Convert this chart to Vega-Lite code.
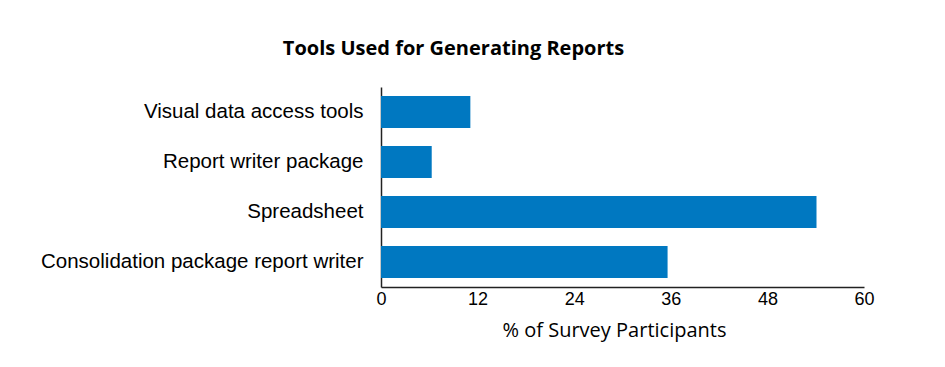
{
  "$schema": "https://vega.github.io/schema/vega-lite/v6.json",
  "autosize": {"type": "none"},
  "width": 483,
  "height": 200,
  "padding": {"left": 381, "top": 87, "right": 81, "bottom": 80},
  "background": "white",
  "title": {
    "text": "Tools Used for Generating Reports",
    "font": "Open Sans",
    "fontSize": 20,
    "fontWeight": "bold",
    "color": "black",
    "anchor": "middle",
    "dx": -169,
    "offset": 28
  },
  "data": {
    "values": [
      {"tool": "Visual data access tools", "pct": 11.1},
      {"tool": "Report writer package", "pct": 6.3},
      {"tool": "Spreadsheet", "pct": 54.1},
      {"tool": "Consolidation package report writer", "pct": 35.6}
    ]
  },
  "mark": {"type": "bar", "color": "#0078c1"},
  "encoding": {
    "y": {
      "field": "tool",
      "type": "nominal",
      "sort": null,
      "scale": {"paddingInner": 0.36, "paddingOuter": 0.18},
      "axis": {
        "title": null,
        "ticks": false,
        "labelFont": "Liberation Sans",
        "labelFontSize": 20.5,
        "labelColor": "black",
        "labelPadding": 18,
        "labelLimit": 400,
        "domainColor": "#222",
        "domainWidth": 1.5
      }
    },
    "x": {
      "field": "pct",
      "type": "quantitative",
      "scale": {"domain": [0, 60], "nice": false},
      "axis": {
        "title": "% of Survey Participants",
        "titleFont": "Open Sans",
        "titleFontSize": 20,
        "titleFontWeight": "normal",
        "titleColor": "black",
        "titlePadding": 12,
        "titleX": 233,
        "values": [0, 12, 24, 36, 48, 60],
        "ticks": false,
        "grid": false,
        "labelFont": "Liberation Sans",
        "labelFontSize": 18,
        "labelColor": "black",
        "labelPadding": 3,
        "labelFlush": false,
        "domainColor": "#222",
        "domainWidth": 1.5
      }
    }
  },
  "config": {"view": {"stroke": null}}
}
